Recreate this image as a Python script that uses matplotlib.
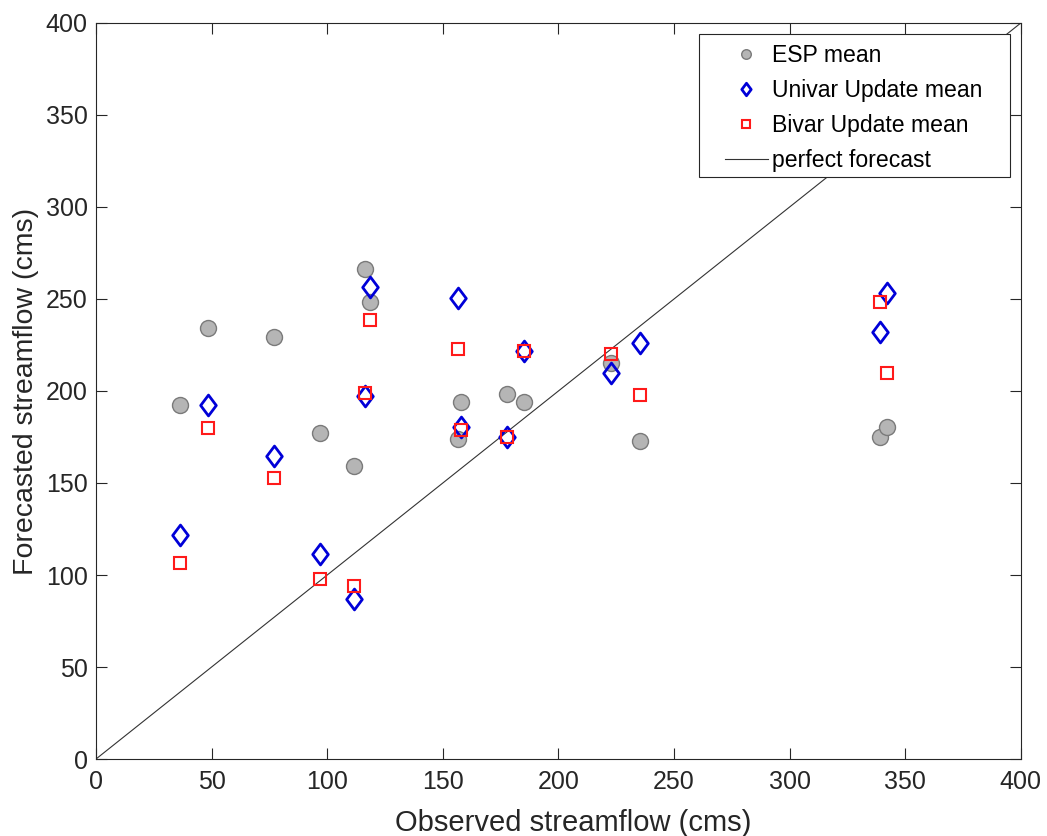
import numpy as np
import matplotlib.pyplot as plt
from matplotlib.path import Path
from matplotlib.patches import Rectangle

plt.rcParams['font.family'] = ['Liberation Sans', 'DejaVu Sans']

# observed flows and the three forecast means
observed = [36.3, 48.4, 77.0, 96.9, 111.4, 116.3, 118.5, 156.6, 157.9,
            177.7, 185.3, 222.8, 235.2, 339.3, 342.2]
esp_mean = [192.4, 234.1, 229.5, 177.0, 159.2, 266.3, 248.5, 173.9, 194.2,
            198.4, 194.2, 215.0, 172.6, 175.2, 180.6]
univar_mean = [121.7, 192.4, 164.7, 111.4, 86.8, 197.5, 256.7, 250.5, 180.6,
               174.8, 221.9, 210.0, 226.3, 232.2, 253.1]
bivar_mean = [106.3, 180.1, 152.5, 97.8, 94.0, 198.7, 238.6, 222.7, 178.8,
              174.8, 221.7, 219.9, 197.8, 248.5, 209.6]
perfect = [0, 400]

# matlab-like diamond, a bit wider than matplotlib's thin diamond
diamond = Path([(0, 1), (0.75, 0), (0, -1), (-0.75, 0), (0, 1)],
               [Path.MOVETO, Path.LINETO, Path.LINETO, Path.LINETO,
                Path.CLOSEPOLY])

fig = plt.figure(figsize=(10.47, 8.36), dpi=100)
ax = fig.add_axes([0.0917, 0.0921, 0.8833, 0.8804])

ax.plot(observed, esp_mean, 'o', ms=11.5, mfc='#b5b5b5', mec='#7a7a7a',
        mew=1.0, label='ESP mean', zorder=3)
ax.plot(observed, univar_mean, marker=diamond, ls='none', ms=15, mfc='none',
        mec='#0000d8', mew=2.0, label='Univar Update mean', zorder=4)
ax.plot(observed, bivar_mean, 's', ms=9, mfc='none', mec='#ff1a1a',
        mew=1.5, label='Bivar Update mean', zorder=5)
ax.plot(perfect, perfect, '-', color='#333333', lw=0.8,
        label='perfect forecast', zorder=2)

ax.set_xlim(0, 400)
ax.set_ylim(0, 400)
ax.set_xticks(np.arange(0, 401, 50))
ax.set_yticks(np.arange(0, 401, 50))
ax.tick_params(direction='in', length=8, width=0.8, top=True, right=True,
               labelsize=18, colors='#262626')
ax.tick_params(axis='x', pad=8)
ax.tick_params(axis='y', pad=6)
for s in ax.spines.values():
    s.set_color('#262626')
    s.set_linewidth(0.8)

ax.set_xlabel('Observed streamflow (cms)', fontsize=21, color='#262626',
              labelpad=11, x=0.516)
ax.set_ylabel('Forecasted streamflow (cms)', fontsize=20.5, color='#262626',
              labelpad=5)

# legend box drawn separately so it can have wide side padding
box = Rectangle((0.652, 0.791), 0.336, 0.194, transform=ax.transAxes,
                facecolor='white', edgecolor='#262626', lw=0.8, zorder=6)
ax.add_patch(box)
leg = ax.legend(loc='upper left', fontsize=16.6, markerscale=0.6,
                handlelength=1.87, frameon=False, borderpad=0,
                labelspacing=0.51, handletextpad=0.17, borderaxespad=0,
                bbox_to_anchor=(0.68, 0.971))
leg.set_zorder(7)

fig.savefig('out.png', dpi=100)
